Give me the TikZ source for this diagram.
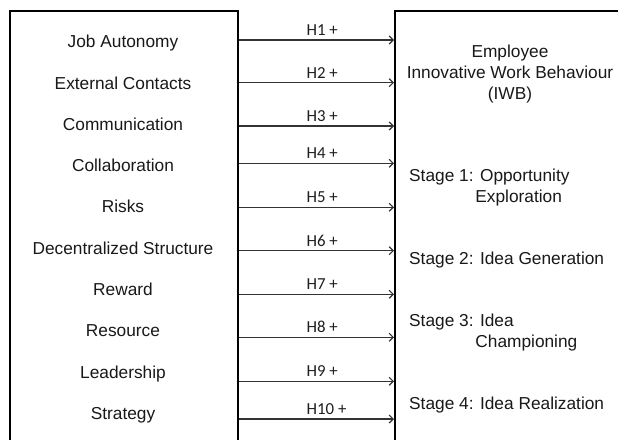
\documentclass[tikz,border=0pt]{standalone}
\usepackage{fontspec}
\setmainfont{Liberation Sans}
\newfontfamily\labfont{Carlito}
\usetikzlibrary{arrows.meta}
\begin{document}
\begin{tikzpicture}[x=1pt,y=-1pt,
  boxline/.style={draw=black, line width=2pt, inner sep=0pt, anchor=north west},
  item/.style={anchor=base, inner sep=0pt, font=\fontsize{17.3}{20}\selectfont, text=black!90},
  stagetext/.style={anchor=base west, inner sep=0pt, font=\fontsize{17.3}{20}\selectfont, text=black!90},
  hyp/.style={anchor=base west, inner sep=0pt, font=\labfont\fontsize{16.8}{19}\selectfont, text=black!88},
  link/.style={draw=black!80, line width=1.2pt, -{Straight Barb[length=4pt,width=8pt,line width=1.2pt]}}
]
\useasboundingbox (0,0) rectangle (618,439);
\clip (0,0) rectangle (618,439);
\fill[white] (0,0) rectangle (618,439);

% the two open-bottomed boxes
\node[boxline, minimum width=228pt, minimum height=480pt] (L) at (9,10) {};
\node[boxline, minimum width=260pt, minimum height=480pt] (R) at (394,10) {};

% antecedents
\node[item] (a1)  at (123,47.7)  {Job Autonomy};
\node[item] (a2)  at (123,89)    {External Contacts};
\node[item] (a3)  at (123,130.3) {Communication};
\node[item] (a4)  at (123,171.6) {Collaboration};
\node[item] (a5)  at (123,212.9) {Risks};
\node[item] (a6)  at (123,254.2) {Decentralized Structure};
\node[item] (a7)  at (123,295.5) {Reward};
\node[item] (a8)  at (123,336.8) {Resource};
\node[item] (a9)  at (123,378.1) {Leadership};
\node[item] (a10) at (123,419.4) {Strategy};

% outcome
\node[item] (o1) at (510,57.5)  {Employee};
\node[item] (o2) at (510,78.7)  {Innovative Work Behaviour};
\node[item] (o3) at (510,99.9)  {(IWB)};

\node[stagetext] (s1a) at (409,181)   {Stage 1: Opportunity};
\node[stagetext] (s1b) at (475.2,202) {Exploration};
\node[stagetext] (s2)  at (409,264.3) {Stage 2: Idea Generation};
\node[stagetext] (s3a) at (409,326.7) {Stage 3: Idea};
\node[stagetext] (s3b) at (475.2,347.5) {Championing};
\node[stagetext] (s4)  at (409,409.3) {Stage 4: Idea Realization};

% hypotheses
\foreach \n/\y in {1/40,2/82.7,3/126,4/163.3,5/207.3,6/250.7,7/294.3,8/337.3,9/381.3,10/419}{
  \draw[link] (L.north east |- 0,\y) -- (R.north west |- 0,\y);
  \node[hyp] (h\n) at (306.5,\y-4.5) {H\n\ +};
}
\end{tikzpicture}
\end{document}
